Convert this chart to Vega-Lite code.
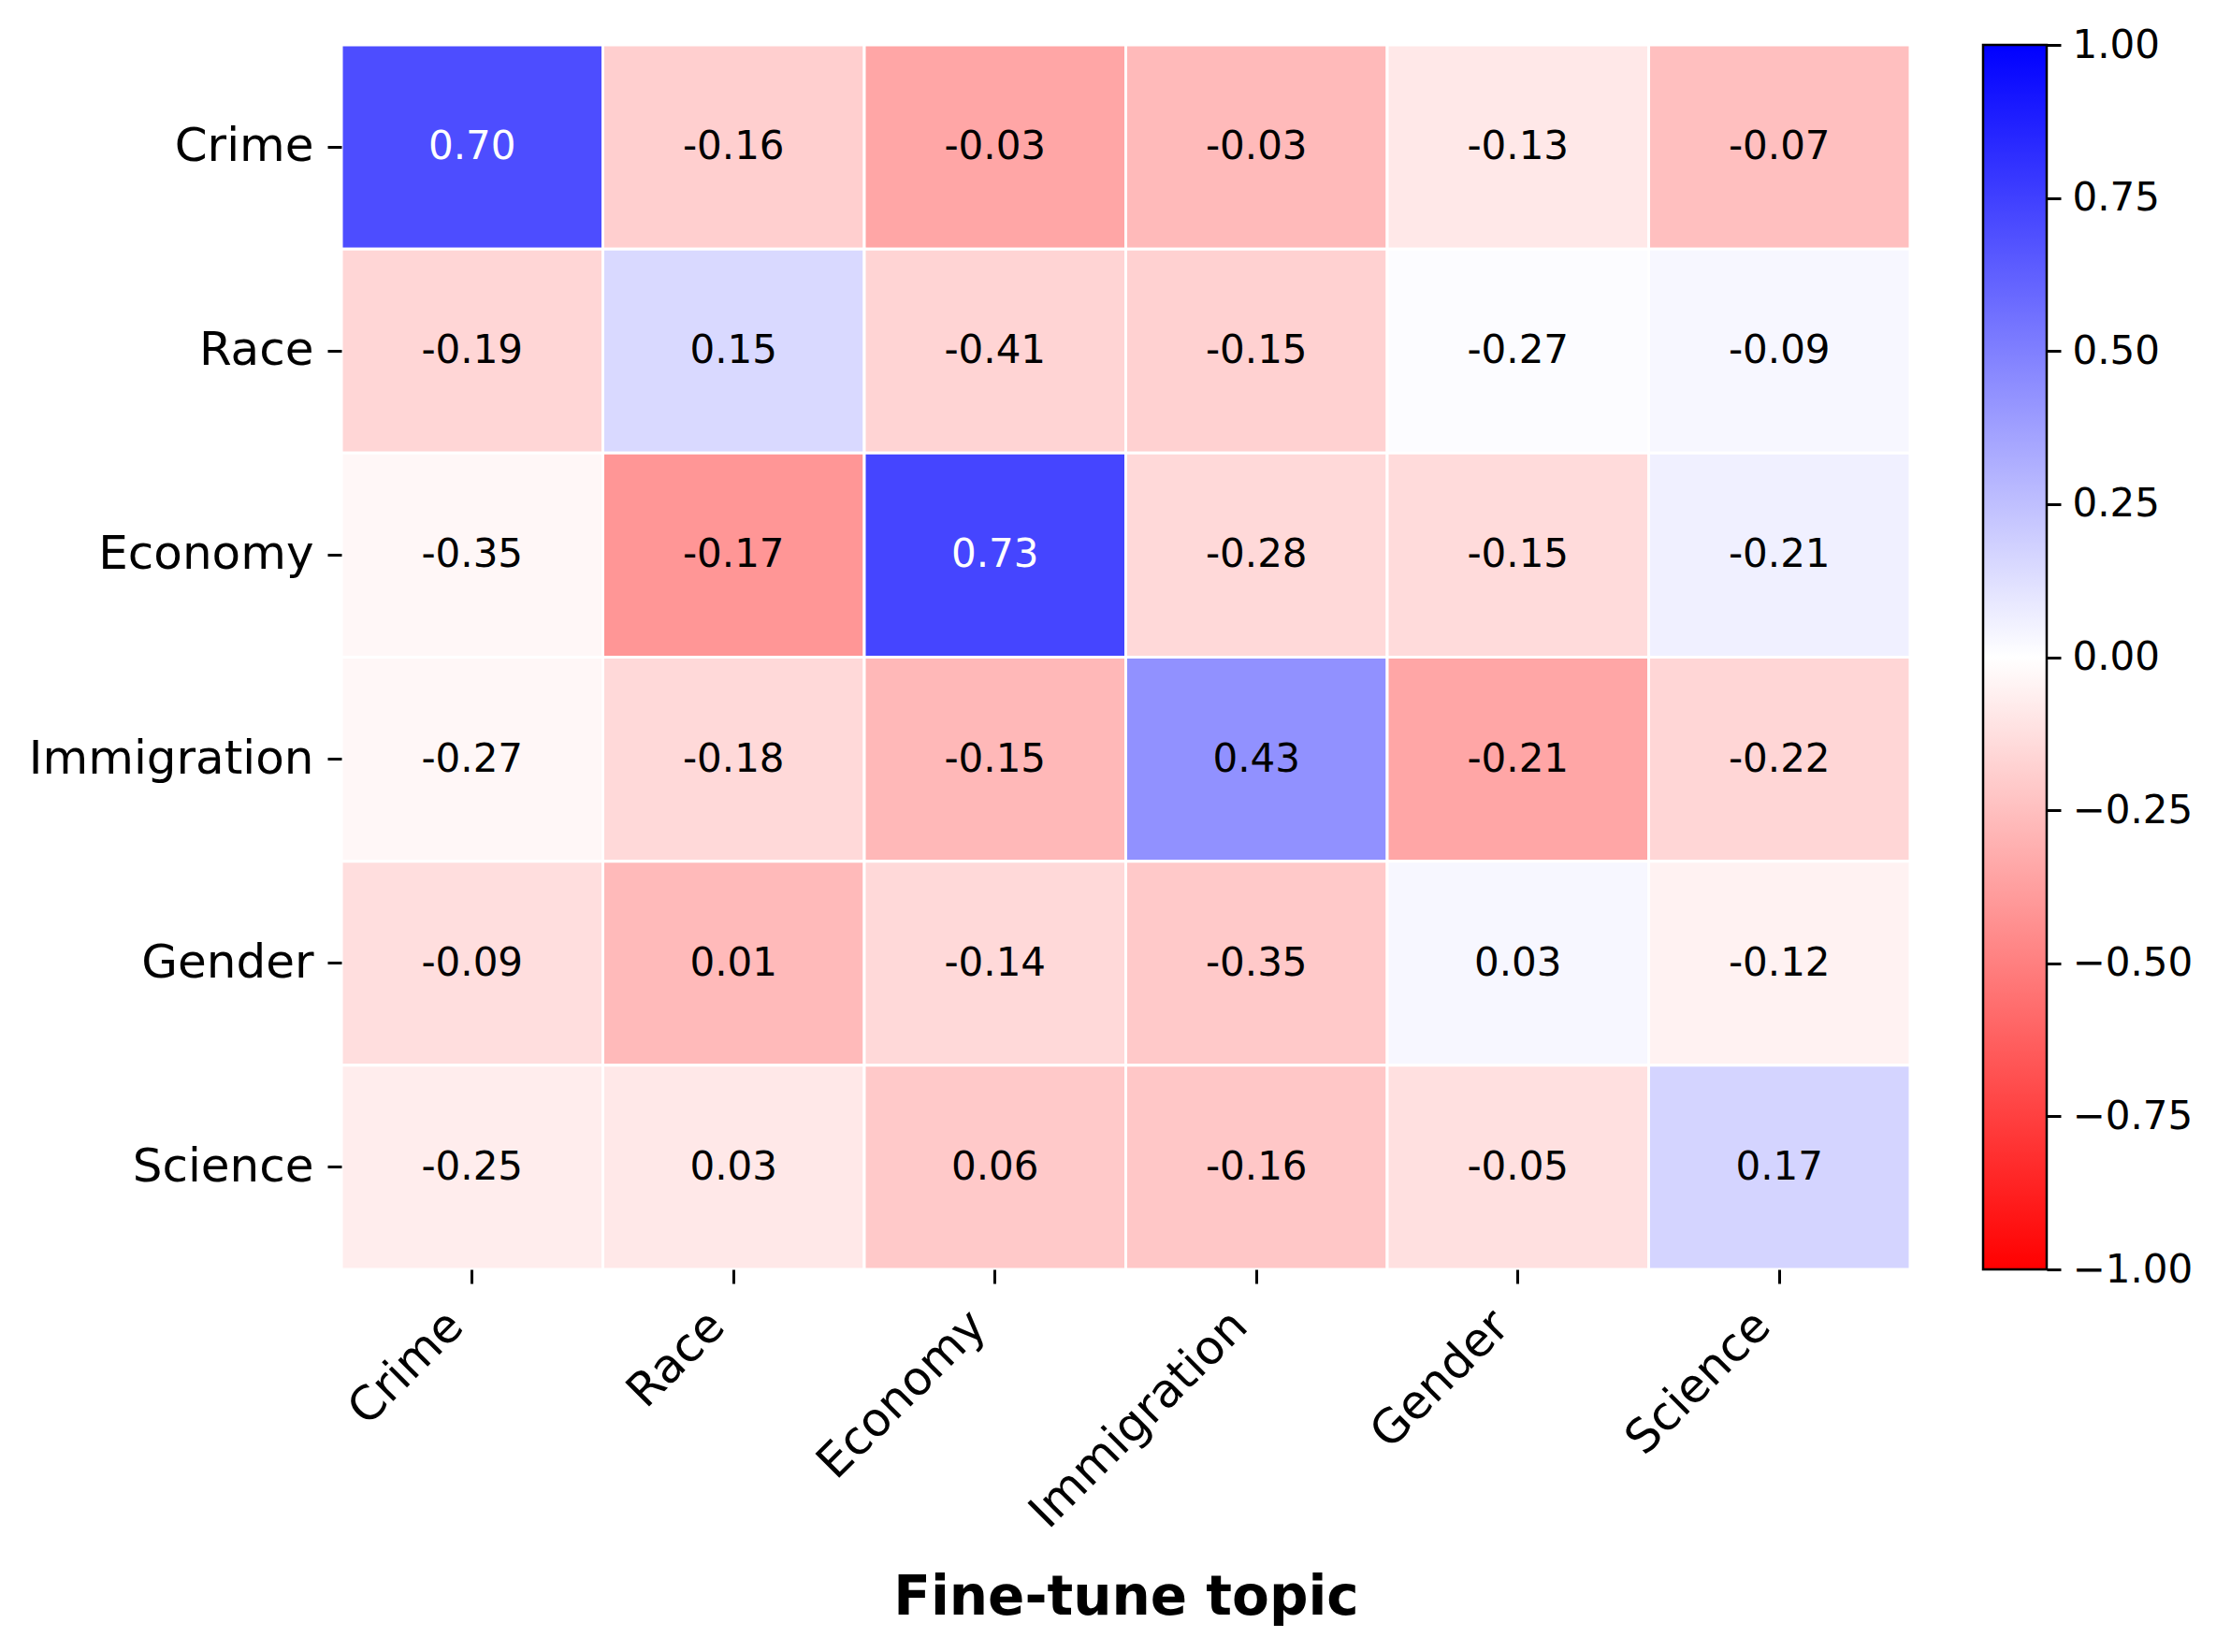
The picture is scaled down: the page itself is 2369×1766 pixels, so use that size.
{
  "$schema": "https://vega.github.io/schema/vega-lite/v6.json",
  "autosize": {"type": "pad"},
  "padding": {"left": 30, "top": 27, "right": 20, "bottom": 20},
  "background": "white",
  "config": {"font": "DejaVu Sans", "view": {"stroke": null}, "concat": {"spacing": 74}},
  "hconcat": [
    {
      "width": 1677,
      "height": 1309,
      "data": {"values": [
        {"row": "Crime", "col": "Crime", "text": "0.70", "shade": 0.70},
        {"row": "Crime", "col": "Race", "text": "-0.16", "shade": -0.19},
        {"row": "Crime", "col": "Economy", "text": "-0.03", "shade": -0.35},
        {"row": "Crime", "col": "Immigration", "text": "-0.03", "shade": -0.27},
        {"row": "Crime", "col": "Gender", "text": "-0.13", "shade": -0.09},
        {"row": "Crime", "col": "Science", "text": "-0.07", "shade": -0.25},
        {"row": "Race", "col": "Crime", "text": "-0.19", "shade": -0.16},
        {"row": "Race", "col": "Race", "text": "0.15", "shade": 0.15},
        {"row": "Race", "col": "Economy", "text": "-0.41", "shade": -0.17},
        {"row": "Race", "col": "Immigration", "text": "-0.15", "shade": -0.18},
        {"row": "Race", "col": "Gender", "text": "-0.27", "shade": 0.01},
        {"row": "Race", "col": "Science", "text": "-0.09", "shade": 0.03},
        {"row": "Economy", "col": "Crime", "text": "-0.35", "shade": -0.03},
        {"row": "Economy", "col": "Race", "text": "-0.17", "shade": -0.41},
        {"row": "Economy", "col": "Economy", "text": "0.73", "shade": 0.73},
        {"row": "Economy", "col": "Immigration", "text": "-0.28", "shade": -0.15},
        {"row": "Economy", "col": "Gender", "text": "-0.15", "shade": -0.14},
        {"row": "Economy", "col": "Science", "text": "-0.21", "shade": 0.06},
        {"row": "Immigration", "col": "Crime", "text": "-0.27", "shade": -0.03},
        {"row": "Immigration", "col": "Race", "text": "-0.18", "shade": -0.15},
        {"row": "Immigration", "col": "Economy", "text": "-0.15", "shade": -0.28},
        {"row": "Immigration", "col": "Immigration", "text": "0.43", "shade": 0.43},
        {"row": "Immigration", "col": "Gender", "text": "-0.21", "shade": -0.35},
        {"row": "Immigration", "col": "Science", "text": "-0.22", "shade": -0.16},
        {"row": "Gender", "col": "Crime", "text": "-0.09", "shade": -0.13},
        {"row": "Gender", "col": "Race", "text": "0.01", "shade": -0.27},
        {"row": "Gender", "col": "Economy", "text": "-0.14", "shade": -0.15},
        {"row": "Gender", "col": "Immigration", "text": "-0.35", "shade": -0.21},
        {"row": "Gender", "col": "Gender", "text": "0.03", "shade": 0.03},
        {"row": "Gender", "col": "Science", "text": "-0.12", "shade": -0.05},
        {"row": "Science", "col": "Crime", "text": "-0.25", "shade": -0.07},
        {"row": "Science", "col": "Race", "text": "0.03", "shade": -0.09},
        {"row": "Science", "col": "Economy", "text": "0.06", "shade": -0.21},
        {"row": "Science", "col": "Immigration", "text": "-0.16", "shade": -0.22},
        {"row": "Science", "col": "Gender", "text": "-0.05", "shade": -0.12},
        {"row": "Science", "col": "Science", "text": "0.17", "shade": 0.17}
      ]},
      "encoding": {
        "x": {
          "field": "col", "type": "nominal",
          "sort": ["Crime", "Race", "Economy", "Immigration", "Gender", "Science"],
          "scale": {"paddingInner": 0, "paddingOuter": 0},
          "title": "Fine-tune topic",
          "axis": {
            "domain": false, "ticks": true, "tickSize": 15, "tickWidth": 3, "tickColor": "black",
            "labelAngle": -45, "labelAlign": "right", "labelBaseline": "bottom",
            "labelFontSize": 50, "labelColor": "black", "labelPadding": 55, "labelLimit": 0,
            "titleFontSize": 58, "titleFontWeight": "bold", "titleColor": "black", "titlePadding": 122
          }
        },
        "y": {
          "field": "row", "type": "nominal",
          "sort": ["Crime", "Race", "Economy", "Immigration", "Gender", "Science"],
          "scale": {"paddingInner": 0, "paddingOuter": 0},
          "title": null,
          "axis": {
            "domain": false, "ticks": true, "tickSize": 15, "tickWidth": 3, "tickColor": "black",
            "labelFontSize": 50, "labelColor": "black", "labelPadding": 15, "labelLimit": 0
          }
        }
      },
      "layer": [
        {
          "mark": {"type": "rect", "stroke": "white", "strokeWidth": 3},
          "encoding": {
            "color": {
              "field": "shade", "type": "quantitative",
              "scale": {"domain": [-1, 0, 1], "range": ["#ff0000", "#ffffff", "#0000ff"], "interpolate": "rgb"},
              "legend": null
            }
          }
        },
        {
          "mark": {"type": "text", "fontSize": 42, "align": "center", "baseline": "middle"},
          "encoding": {
            "text": {"field": "text", "type": "nominal"},
            "color": {
              "condition": {"test": "datum.shade > 0.5", "value": "white"},
              "value": "black"
            }
          }
        }
      ]
    },
    {
      "width": 68,
      "height": 1309,
      "data": {"values": [{"lo": -1, "hi": 1}]},
      "mark": {
        "type": "rect",
        "stroke": "black",
        "strokeWidth": 2.5,
        "color": {
          "gradient": "linear",
          "x1": 0, "y1": 1, "x2": 0, "y2": 0,
          "stops": [
            {"offset": 0, "color": "#ff0000"},
            {"offset": 0.5, "color": "#ffffff"},
            {"offset": 1, "color": "#0000ff"}
          ]
        }
      },
      "encoding": {
        "x": {"datum": 0, "type": "quantitative", "scale": {"domain": [0, 1]}, "axis": null},
        "x2": {"datum": 1},
        "y": {
          "field": "lo", "type": "quantitative",
          "scale": {"domain": [-1, 1], "nice": false, "zero": false},
          "title": null,
          "axis": {
            "orient": "right", "values": [-1, -0.75, -0.5, -0.25, 0, 0.25, 0.5, 0.75, 1],
            "format": ".2f", "domain": false, "grid": false,
            "tickSize": 15, "tickWidth": 3, "tickColor": "black",
            "labelFontSize": 42, "labelColor": "black", "labelPadding": 12,
            "labelBound": false, "labelFlush": false, "labelOverlap": false
          }
        },
        "y2": {"field": "hi"}
      }
    }
  ]
}
